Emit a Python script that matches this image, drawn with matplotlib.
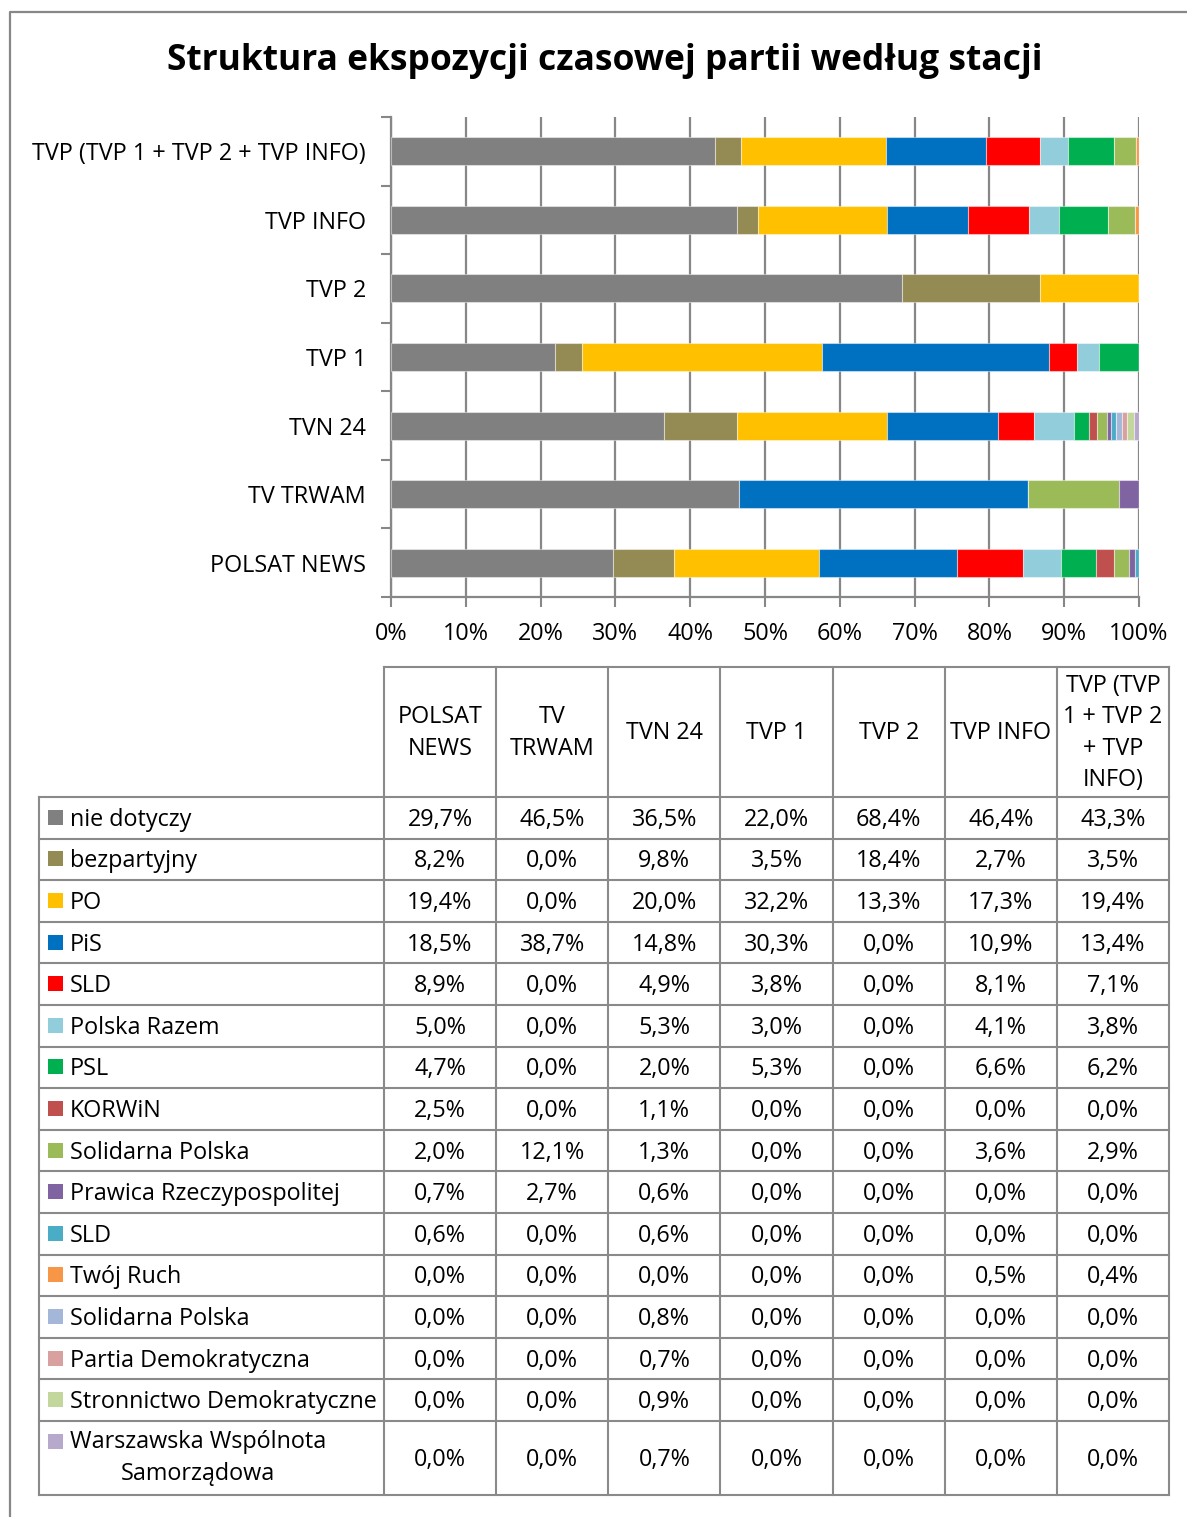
import matplotlib
matplotlib.use('Agg')
import matplotlib.pyplot as plt
from matplotlib.patches import Rectangle
import numpy as np

plt.rcParams['font.family'] = ['Open Sans', 'DejaVu Sans']

# stations (table column order, bottom-to-top in the bar chart)
stations = ['POLSAT NEWS', 'TV TRWAM', 'TVN 24', 'TVP 1', 'TVP 2', 'TVP INFO',
            'TVP (TVP 1 + TVP 2 + TVP INFO)']
station_headers = ['POLSAT\nNEWS', 'TV\nTRWAM', 'TVN 24', 'TVP 1', 'TVP 2', 'TVP INFO',
                   'TVP (TVP\n1 + TVP 2\n+ TVP\nINFO)']

parties = ['nie dotyczy', 'bezpartyjny', 'PO', 'PiS', 'SLD', 'Polska Razem', 'PSL',
           'KORWiN', 'Solidarna Polska', 'Prawica Rzeczypospolitej', 'SLD', 'Twój Ruch',
           'Solidarna Polska', 'Partia Demokratyczna', 'Stronnictwo Demokratyczne',
           'Warszawska Wspólnota\nSamorządowa']

colors = ['#808080', '#948A54', '#FFC000', '#0070C0', '#FF0000', '#92CDDC', '#00B050',
          '#C0504D', '#9BBB59', '#8064A2', '#4BACC6', '#F79646', '#A5B7D9', '#D9A0A0',
          '#C3D69B', '#B7A9CC']

# share of time (%) per party, one list per station
polsat_news = [29.7, 8.2, 19.4, 18.5, 8.9, 5.0, 4.7, 2.5, 2.0, 0.7, 0.6, 0.0, 0.0, 0.0, 0.0, 0.0]
tv_trwam = [46.5, 0.0, 0.0, 38.7, 0.0, 0.0, 0.0, 0.0, 12.1, 2.7, 0.0, 0.0, 0.0, 0.0, 0.0, 0.0]
tvn_24 = [36.5, 9.8, 20.0, 14.8, 4.9, 5.3, 2.0, 1.1, 1.3, 0.6, 0.6, 0.0, 0.8, 0.7, 0.9, 0.7]
tvp_1 = [22.0, 3.5, 32.2, 30.3, 3.8, 3.0, 5.3, 0.0, 0.0, 0.0, 0.0, 0.0, 0.0, 0.0, 0.0, 0.0]
tvp_2 = [68.4, 18.4, 13.3, 0.0, 0.0, 0.0, 0.0, 0.0, 0.0, 0.0, 0.0, 0.0, 0.0, 0.0, 0.0, 0.0]
tvp_info = [46.4, 2.7, 17.3, 10.9, 8.1, 4.1, 6.6, 0.0, 3.6, 0.0, 0.0, 0.5, 0.0, 0.0, 0.0, 0.0]
tvp_all = [43.3, 3.5, 19.4, 13.4, 7.1, 3.8, 6.2, 0.0, 2.9, 0.0, 0.0, 0.4, 0.0, 0.0, 0.0, 0.0]

data = np.array([polsat_news, tv_trwam, tvn_24, tvp_1, tvp_2, tvp_info, tvp_all])  # stations x parties

W, H = 1187, 1517
fs = 16.8
fig = plt.figure(figsize=(W / 100, H / 100), dpi=100)
fig.patch.set_facecolor('white')

# overlay in pixel coordinates for title, frame and the data table
lay = fig.add_axes([0, 0, 1, 1])
lay.set_xlim(0, W)
lay.set_ylim(H, 0)
lay.axis('off')

grey = '#878787'
lay.plot([10, 10, W], [H, 12, 12], color=grey, lw=1.6)
lay.text(605, 61, 'Struktura ekspozycji czasowej partii według stacji',
         ha='center', va='center', fontsize=25.5, fontweight='bold')

# --- stacked 100% bar chart ---
ax = fig.add_axes([391 / W, 1 - 597 / H, (1139 - 391) / W, (597 - 117) / H])
ypos = np.arange(len(stations))
shares = data / data.sum(axis=1, keepdims=True)
lefts = np.zeros(len(stations))
for j in range(len(parties)):
    ax.barh(ypos, shares[:, j], left=lefts, height=0.41, color=colors[j],
            edgecolor=(1, 1, 1, 0.45), linewidth=0.8, zorder=3)
    lefts += shares[:, j]

ax.set_xlim(0, 1)
ax.set_ylim(-0.5, len(stations) - 0.5)
ax.set_xticks(np.arange(0, 1.01, 0.1))
ax.set_xticklabels([f'{int(round(v * 100))}%' for v in np.arange(0, 1.01, 0.1)], fontsize=fs)
ax.set_yticks(ypos)
ax.set_yticklabels(stations, fontsize=fs)
ax.set_yticks(np.arange(-0.5, len(stations)), minor=True)
ax.tick_params(axis='y', which='major', length=0, pad=18)
ax.tick_params(axis='y', which='minor', length=7, width=1.5, color=grey, direction='out')
ax.tick_params(axis='x', length=7, width=1.5, color=grey, direction='out', pad=11)
ax.xaxis.grid(True, color=grey, lw=1.6)
ax.set_axisbelow(True)
for s in ['top', 'right']:
    ax.spines[s].set_visible(False)
for s in ['left', 'bottom']:
    ax.spines[s].set_color(grey)
    ax.spines[s].set_linewidth(1.6)

# --- data table ---
x0, x1, xr = 39, 384, 1169
col_w = (xr - x1) / len(stations)
col_edges = [x0] + [x1 + k * col_w for k in range(len(stations) + 1)]
head_top, head_bot = 667, 797
row_h = 41.6
row_edges = [head_bot + k * row_h for k in range(len(parties))]
row_edges.append(row_edges[-1] + 74)
tcol = '#8a8a8a'
tlw = 1.5

# header
lay.plot([x1, xr], [head_top, head_top], color=tcol, lw=tlw)
for xe in col_edges[1:]:
    lay.plot([xe, xe], [head_top, head_bot], color=tcol, lw=tlw)
for k, lab in enumerate(station_headers):
    cx = col_edges[k + 1] + col_w / 2
    lay.text(cx, (head_top + head_bot) / 2 + 1, lab, ha='center', va='center',
             fontsize=fs, linespacing=1.42)

# body grid
for ye in row_edges:
    lay.plot([x0, xr], [ye, ye], color=tcol, lw=tlw)
for xe in col_edges:
    lay.plot([xe, xe], [row_edges[0], row_edges[-1]], color=tcol, lw=tlw)

for j, name in enumerate(parties):
    ytop, ybot = row_edges[j], row_edges[j + 1]
    cy = (ytop + ybot) / 2 + 2
    if '\n' in name:
        first, second = name.split('\n')
        ly = ytop + 21
        lay.add_patch(Rectangle((48, ly - 8.5), 15, 15, color=colors[j], lw=0))
        lay.text(70, ly, first, ha='left', va='center', fontsize=fs)
        lay.text(198, ly + 32, second, ha='center', va='center', fontsize=fs)
    else:
        lay.add_patch(Rectangle((48, cy - 10), 15, 15, color=colors[j], lw=0))
        lay.text(70, cy, name, ha='left', va='center', fontsize=fs)
    for k in range(len(stations)):
        cx = col_edges[k + 1] + col_w / 2
        txt = f'{data[k, j]:.1f}'.replace('.', ',') + '%'
        lay.text(cx, cy, txt, ha='center', va='center', fontsize=fs)

fig.savefig('out.png', dpi=100, facecolor='white')
